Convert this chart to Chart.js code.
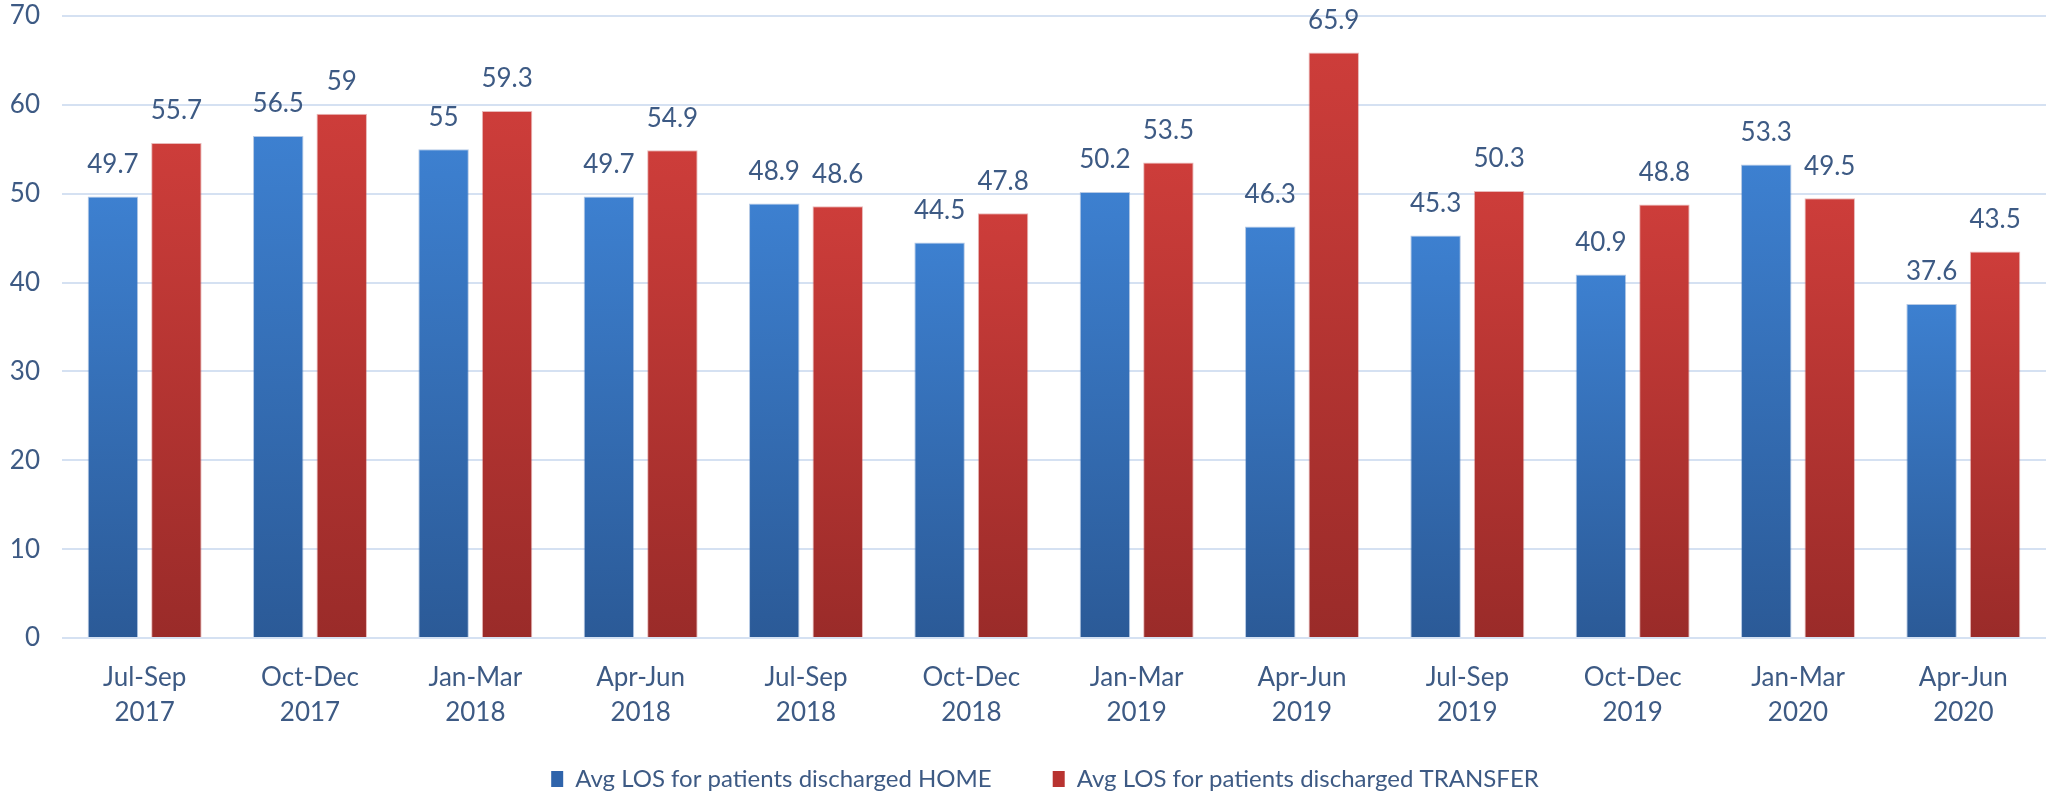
<!DOCTYPE html>
<html>
<head>
<meta charset="utf-8">
<script src="https://cdn.jsdelivr.net/npm/chart.js@4.4.1/dist/chart.umd.min.js"></script>
<style>
  html, body { margin: 0; padding: 0; background: #fff; }
  #wrap { width: 2063px; height: 796px; position: relative; }
</style>
</head>
<body>
<div id="wrap"><canvas id="myChart"></canvas></div>
<script>
const quarters = [
  ["Jul-Sep", "2017"], ["Oct-Dec", "2017"], ["Jan-Mar", "2018"], ["Apr-Jun", "2018"],
  ["Jul-Sep", "2018"], ["Oct-Dec", "2018"], ["Jan-Mar", "2019"], ["Apr-Jun", "2019"],
  ["Jul-Sep", "2019"], ["Oct-Dec", "2019"], ["Jan-Mar", "2020"], ["Apr-Jun", "2020"]
];
const losHome = [49.7, 56.5, 55, 49.7, 48.9, 44.5, 50.2, 46.3, 45.3, 40.9, 53.3, 37.6];
const losTransfer = [55.7, 59, 59.3, 54.9, 48.6, 47.8, 53.5, 65.9, 50.3, 48.8, 49.5, 43.5];
const yTicks = [0, 10, 20, 30, 40, 50, 60, 70];

const FONT = "Lato, 'Open Sans', sans-serif";
const TEXT = "#3d5a84";
const GRID = "#d5e1f2";

// gradient runs from the top of each bar down to the axis
function barGradient(top, bottom) {
  return function (ctx) {
    const chart = ctx.chart;
    const area = chart.chartArea;
    if (!area || ctx.raw == null) return top;
    const yTop = chart.scales.y.getPixelForValue(ctx.raw);
    const g = chart.ctx.createLinearGradient(0, yTop, 0, area.bottom);
    g.addColorStop(0, top);
    g.addColorStop(1, bottom);
    return g;
  };
}

// draws the value above every bar
const valueLabels = {
  id: "valueLabels",
  afterDatasetsDraw(chart) {
    const ctx = chart.ctx;
    ctx.save();
    ctx.font = "26px " + FONT;
    ctx.fillStyle = TEXT;
    ctx.textAlign = "center";
    ctx.textBaseline = "bottom";
    chart.data.datasets.forEach((ds, i) => {
      chart.getDatasetMeta(i).data.forEach((bar, j) => {
        ctx.fillText(String(ds.data[j]), bar.x, bar.y - 19);
      });
    });
    ctx.restore();
  }
};

// nudge the legend a little right, and let the two-line x labels
// run past the (short) x axis box without being clipped
const layoutTweaks = {
  id: "layoutTweaks",
  afterLayout(chart) {
    if (chart.legend) {
      chart.legend.left += 22;
      chart.legend.right += 22;
    }
    chart.scales.x.bottom = chart.height;
  }
};

const canvas = document.getElementById("myChart");
canvas.width = 2063;
canvas.height = 796;

new Chart(canvas.getContext("2d"), {
  type: "bar",
  data: {
    labels: quarters,
    datasets: [
      {
        label: "Avg LOS for patients discharged HOME",
        data: losHome,
        backgroundColor: barGradient("#3d80d0", "#2b5a97"),
        borderColor: "rgba(70,120,190,0.4)",
        borderWidth: 1,
      },
      {
        label: "Avg LOS for patients discharged TRANSFER",
        data: losTransfer,
        backgroundColor: barGradient("#cd3d3a", "#9a2b29"),
        borderColor: "rgba(200,80,80,0.4)",
        borderWidth: 1,
      },
    ],
  },
  options: {
    responsive: false,
    animation: false,
    devicePixelRatio: 1,
    categoryPercentage: 0.768,
    barPercentage: 0.795,
    layout: { padding: { top: 16, right: 17, left: 0, bottom: -5 } },
    plugins: {
      tooltip: { enabled: false },
      legend: {
        display: true,
        position: "bottom",
        labels: {
          color: TEXT,
          font: { family: FONT, size: 24 },
          boxWidth: 12,
          boxHeight: 16,
          padding: 61,
          generateLabels(chart) {
            const cols = ["#2f64ab", "#b83330"];
            return chart.data.datasets.map((ds, i) => ({
              text: ds.label,
              fillStyle: cols[i],
              strokeStyle: cols[i],
              lineWidth: 0,
              fontColor: TEXT,
              datasetIndex: i,
            }));
          },
        },
      },
    },
    scales: {
      y: {
        min: 0,
        max: 70,
        afterBuildTicks(scale) {
          scale.ticks = yTicks.map((v) => ({ value: v }));
        },
        afterFit(scale) {
          scale.width = 62;
          scale.paddingTop = 0;
          scale.paddingBottom = 0;
        },
        grid: { color: GRID, lineWidth: 2, drawTicks: false },
        border: { display: false },
        ticks: {
          color: TEXT,
          font: { family: FONT, size: 26 },
          padding: 22,
        },
      },
      x: {
        afterFit(scale) { scale.height = 68; },
        grid: { display: false, drawTicks: false },
        border: { display: false },
        ticks: {
          color: TEXT,
          font: { family: FONT, size: 26, lineHeight: 1.35 },
          padding: 22,
          maxRotation: 0,
          autoSkip: false,
        },
      },
    },
  },
  plugins: [valueLabels, layoutTweaks],
});
</script>
</body>
</html>
